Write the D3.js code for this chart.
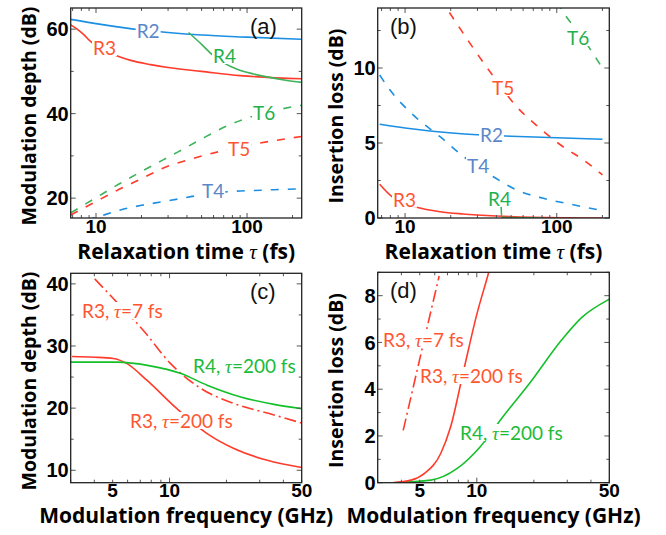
<!DOCTYPE html>
<html>
<head>
<meta charset="utf-8">
<script src="https://cdn.jsdelivr.net/npm/d3@7"></script>
<style>
body { margin: 0; background: #fff; }
</style>
</head>
<body>
<script>
// ---- panel (a): modulation depth (dB) vs relaxation time (fs)
const tauA_R2 = [6.8, 10, 20, 30, 50, 100, 230];
const depA_R2 = [62.3, 61.3, 59.8, 59.2, 58.6, 58.1, 57.6];
const tauA_R3 = [6.8, 7.5, 8.3, 9.2, 10, 12, 14, 17, 23, 30, 50, 90, 230];
const depA_R3 = [61, 60, 58.7, 57.1, 56.2, 54.6, 53.6, 52.6, 51.6, 50.9, 50, 49, 48.25];
const tauA_R4 = [41, 50, 59, 70, 86, 110, 135, 180, 230];
const depA_R4 = [59.2, 56.4, 53.9, 52, 50.5, 49.4, 48.7, 47.9, 47.4];
const tauA_T6 = [6.8, 10, 14.3, 20, 34.7, 53, 74.5, 120, 230];
const depA_T6 = [16.5, 20.1, 23.4, 26.3, 30.9, 34.5, 37.2, 39.8, 42.0];
const tauA_T5 = [6.8, 10, 13.4, 20, 28.7, 45, 67, 116, 230];
const depA_T5 = [16.0, 19.2, 21.6, 24.6, 27.3, 29.5, 31.1, 32.9, 34.6];
const tauA_T4 = [6.8, 11.5, 14.5, 20, 27, 35, 45, 80, 110, 150, 230];
const depA_T4 = [13.6, 16.1, 17.2, 18.3, 19.1, 19.8, 20.5, 21.6, 21.8, 22.0, 22.2];

// ---- panel (b): insertion loss (dB) vs relaxation time (fs)
const tauB_R2 = [6.8, 10, 14.6, 30, 50, 100, 200];
const lossB_R2 = [6.25, 6.0, 5.8, 5.55, 5.45, 5.35, 5.25];
const tauB_R3 = [6.8, 8.2, 10, 11.9, 17, 24, 40, 70, 120, 200];
const lossB_R3 = [2.25, 1.42, 0.95, 0.71, 0.42, 0.27, 0.13, 0.04, 0.01, 0];
const tauB_R4 = [43, 43.3, 60, 80];
const lossB_R4 = [0.75, 0.03, 0.02, 0.02];
const tauB_T4 = [6.8, 7.96, 11.3, 17, 25, 38.2, 54.4, 81.6, 122, 200];
const lossB_T4 = [9.53, 8.53, 6.87, 5.42, 4.0, 2.75, 1.87, 1.31, 0.93, 0.49];
const tauB_T5 = [17, 18.8, 26.8, 36.3, 54.4, 77.5, 110, 150, 200];
const lossB_T5 = [14.65, 13.98, 11.64, 9.75, 7.42, 5.98, 4.75, 3.87, 2.87];
const tauB_T6 = [100, 116, 150, 170, 200];
const lossB_T6 = [14.4, 13.4, 11.95, 11.1, 10.0];

// ---- panel (c): modulation depth (dB) vs modulation frequency (GHz)
const fC_R3t7 = [4.02, 4.64, 5.47, 6.43, 7.27, 10.1, 14.6, 21.9, 35.7, 50];
const depC_R3t7 = [40.8, 38.8, 36.5, 34.3, 32.5, 27.2, 23.2, 20.75, 18.9, 17.6];
const fC_R3t200 = [3.05, 4, 5.04, 5.93, 7.58, 10.9, 15.8, 21.9, 32.9, 50];
const depC_R3t200 = [28.3, 28.2, 28.0, 27.2, 24.5, 19.95, 15.9, 13.5, 11.6, 10.45];
const fC_R4t200 = [3.0, 5.26, 7.9, 11.4, 15.8, 23.8, 35.7, 50];
const depC_R4t200 = [27.4, 27.4, 26.8, 25.6, 23.7, 21.8, 20.6, 19.9];

// ---- panel (d): insertion loss (dB) vs modulation frequency (GHz)
const fD_R3t7 = [4.09, 4.7, 5.51, 6.33];
const lossD_R3t7 = [2.24, 4.35, 6.76, 8.84];
const fD_R3t200 = [3.6, 4.5, 5.3, 6.45, 7.27, 8.52, 10, 11.5, 12];
const lossD_R3t200 = [0.0, 0.11, 0.4, 1.25, 2.38, 4.8, 7.2, 8.94, 9.5];
const fD_R4t200 = [3.6, 5.73, 7.88, 10.4, 13.7, 18.9, 28, 35.7, 48.7, 50];
const lossD_R4t200 = [0.0, 0.11, 0.61, 1.53, 2.81, 4.23, 6.1, 7.06, 7.8, 7.85];

// colours
const BLUE = '#1c8fe3', RED = '#ff3b2b', GREEN = '#3db35c', GREEN2 = '#14c02a';
const BLUE_T = '#5b87c8', RED_T = '#ff5632', GREEN_T = '#1fb04c', GREEN2_T = '#1dbb3a';

const SANS = "'Liberation Sans', Arial, sans-serif";
const TITLE_FONT = "'Open Sans', 'Liberation Sans', sans-serif";
const LABEL_FONT = "Lato, 'Open Sans', sans-serif";
const SERIF = "'Liberation Serif', 'DejaVu Serif', serif";

var svg = d3.select('body').append('svg').attr('width', 666).attr('height', 535);

function makePanel(p) {
    let x = d3.scaleLog().domain(p.xDomain).range([p.left, p.right]);
    let y = d3.scaleLinear().domain(p.yDomain).range([p.bottom, p.top]);
    let g = svg.append('g');

    let clipId = 'clip-' + p.name;
    svg.append('clipPath').attr('id', clipId).append('rect')
        .attr('x', p.left).attr('y', p.top)
        .attr('width', p.right - p.left).attr('height', p.bottom - p.top);

    let plot = g.append('g').attr('clip-path', 'url(#' + clipId + ')');
    let over = g.append('g');

    // x ticks (log, top & bottom, inside)
    let lo = Math.floor(Math.log10(p.xDomain[0])), hi = Math.ceil(Math.log10(p.xDomain[1]));
    for (let k = lo; k <= hi; k++) {
        for (let m = 1; m <= 9; m++) {
            let v = m * Math.pow(10, k);
            if (v < p.xDomain[0] || v > p.xDomain[1]) continue;
            let len = m === 1 ? 5 : 3;
            let xx = x(v);
            over.append('line').attr('x1', xx).attr('x2', xx).attr('y1', p.bottom).attr('y2', p.bottom - len)
                .attr('stroke', '#555').attr('stroke-width', 1);
            over.append('line').attr('x1', xx).attr('x2', xx).attr('y1', p.top).attr('y2', p.top + len)
                .attr('stroke', '#555').attr('stroke-width', 1);
        }
    }
    p.xLabels.forEach(v => {
        over.append('text').text(v)
            .attr('x', x(v)).attr('y', p.bottom + 14.5)
            .attr('text-anchor', 'middle')
            .attr('font-family', SANS).attr('font-weight', 'bold').attr('font-size', 19);
    });

    // y ticks (left & right, inside)
    for (let v = p.yMinor0; v <= p.yDomain[1] + 1e-9; v += p.yMinor) {
        let major = p.yLabels.some(l => Math.abs(l - v) < 1e-9);
        let len = major ? 5 : 3;
        let yy = y(v);
        over.append('line').attr('x1', p.left).attr('x2', p.left + len).attr('y1', yy).attr('y2', yy)
            .attr('stroke', '#555').attr('stroke-width', 1);
        over.append('line').attr('x1', p.right).attr('x2', p.right - len).attr('y1', yy).attr('y2', yy)
            .attr('stroke', '#555').attr('stroke-width', 1);
    }
    p.yLabels.forEach(v => {
        over.append('text').text(v)
            .attr('x', p.left - 2).attr('y', y(v)).attr('dy', '0.36em')
            .attr('text-anchor', 'end')
            .attr('font-family', SANS).attr('font-weight', 'bold').attr('font-size', 20);
    });

    // axis titles
    let xt = over.append('text')
        .attr('x', (p.left + p.right) / 2).attr('y', p.bottom + 40.5)
        .attr('text-anchor', 'middle')
        .attr('font-family', TITLE_FONT).attr('font-weight', 'bold').attr('font-size', 21);
    p.xTitle.forEach(part => {
        let t = xt.append('tspan').text(part.t);
        if (part.italic) t.attr('font-family', SERIF).attr('font-style', 'italic').attr('font-weight', 'normal');
    });
    over.append('text').text(p.yTitle)
        .attr('transform', 'translate(' + (p.left - 35) + ',' + ((p.top + p.bottom) / 2 + 3) + ') rotate(-90)')
        .attr('text-anchor', 'middle')
        .attr('font-family', TITLE_FONT).attr('font-weight', 'bold').attr('font-size', 19.5);

    return { x: x, y: y, plot: plot, over: over, p: p };
}

function drawLine(P, xs, ys, color, dash, w) {
    let pts = xs.map((v, i) => [P.x(v), P.y(ys[i])]);
    P.plot.append('path')
        .attr('d', d3.line().curve(d3.curveMonotoneX)(pts))
        .attr('fill', 'none')
        .attr('stroke', color)
        .attr('stroke-width', w || 1.6)
        .attr('stroke-dasharray', dash || null);
}

// labels sit on a white box that hides the curve behind them
function label(P, parts, dx, dy, color, opts) {
    opts = opts || {};
    let grp = P.over.append('g');
    let bg = grp.append('rect').attr('fill', '#fff');
    let t = grp.append('text')
        .attr('x', P.p.left + dx).attr('y', P.p.top + dy)
        .attr('fill', color)
        .attr('font-family', opts.font || LABEL_FONT)
        .attr('font-size', opts.size || 19);
    parts.forEach(part => {
        let s = t.append('tspan').text(part.t);
        if (part.italic) s.attr('font-family', SERIF).attr('font-style', 'italic');
    });
    let bb = t.node().getBBox();
    let px = opts.pad == null ? 1 : opts.pad;
    bg.attr('x', bb.x - px).attr('y', bb.y + 3).attr('width', bb.width + 2 * px).attr('height', bb.height - 6);
}

function frame(P) {
    P.over.append('rect')
        .attr('x', P.p.left).attr('y', P.p.top)
        .attr('width', P.p.right - P.p.left).attr('height', P.p.bottom - P.p.top)
        .attr('fill', 'none').attr('stroke', '#222').attr('stroke-width', 1.3);
}

const TAU_TITLE = [{ t: 'Relaxation time ' }, { t: 'τ', italic: true }, { t: ' (fs)' }];
const FREQ_TITLE = [{ t: 'Modulation frequency (GHz)' }];
const DASH = '8,9';
const DASHDOT = '12,4,2,4';

// ---- (a)
let A = makePanel({
    name: 'a', left: 70.7, right: 301.7, top: 8, bottom: 218,
    xDomain: [6.8, 230], yDomain: [15.3, 65],
    xLabels: [10, 100], yLabels: [20, 40, 60], yMinor0: 20, yMinor: 10,
    xTitle: TAU_TITLE, yTitle: 'Modulation depth (dB)'
});
drawLine(A, tauA_R2, depA_R2, BLUE);
drawLine(A, tauA_R3, depA_R3, RED);
drawLine(A, tauA_R4, depA_R4, GREEN);
drawLine(A, tauA_T6, depA_T6, GREEN, DASH);
drawLine(A, tauA_T5, depA_T5, RED, DASH);
drawLine(A, tauA_T4, depA_T4, BLUE, DASH);
label(A, [{ t: 'R2' }], 66, 30, BLUE_T);
label(A, [{ t: 'R3' }], 22.3, 47, RED_T);
label(A, [{ t: 'R4' }], 142.3, 55, GREEN_T);
label(A, [{ t: 'T6' }], 182.3, 112, GREEN_T);
label(A, [{ t: 'T5' }], 157.3, 148, RED_T);
label(A, [{ t: 'T4' }], 131.3, 190, BLUE_T);
label(A, [{ t: '(a)' }], 179.3, 26, '#111', { font: SANS, size: 22, pad: 9 });
frame(A);

// ---- (b)
let B = makePanel({
    name: 'b', left: 377.7, right: 609.3, top: 8, bottom: 218,
    xDomain: [6.6, 222], yDomain: [0, 14],
    xLabels: [10, 100], yLabels: [0, 5, 10], yMinor0: 0, yMinor: 2.5,
    xTitle: TAU_TITLE, yTitle: 'Insertion loss (dB)'
});
drawLine(B, tauB_T6, lossB_T6, GREEN, DASH);
drawLine(B, tauB_T5, lossB_T5, RED, DASH);
drawLine(B, tauB_T4, lossB_T4, BLUE, DASH);
drawLine(B, tauB_R2, lossB_R2, BLUE);
drawLine(B, tauB_R3, lossB_R3, RED);
drawLine(B, tauB_R4, lossB_R4, GREEN);
label(B, [{ t: '(b)' }], 12.3, 26, '#111', { font: SANS, size: 22 });
label(B, [{ t: 'T6' }], 189.3, 37, GREEN_T);
label(B, [{ t: 'T5' }], 114.3, 87, RED_T);
label(B, [{ t: 'R2' }], 102.3, 133.7, BLUE_T);
label(B, [{ t: 'T4' }], 89.3, 165, BLUE_T);
label(B, [{ t: 'R3' }], 15.3, 198.7, RED_T);
label(B, [{ t: 'R4' }], 110.3, 197.5, GREEN_T);
frame(B);

// ---- (c)
let C = makePanel({
    name: 'c', left: 70.7, right: 301.7, top: 273.3, bottom: 482.7,
    xDomain: [3, 50], yDomain: [8, 41.7],
    xLabels: [5, 10, 50], yLabels: [10, 20, 30, 40], yMinor0: 10, yMinor: 5,
    xTitle: FREQ_TITLE, yTitle: 'Modulation depth (dB)'
});
drawLine(C, fC_R3t7, depC_R3t7, RED, DASHDOT);
drawLine(C, fC_R3t200, depC_R3t200, RED);
drawLine(C, fC_R4t200, depC_R4t200, GREEN2);
label(C, [{ t: '(c)' }], 179.3, 25.7, '#111', { font: SANS, size: 22 });
label(C, [{ t: 'R3, ' }, { t: 'τ', italic: true }, { t: '=7 fs' }], 11.3, 44.7, RED_T);
label(C, [{ t: 'R4, ' }, { t: 'τ', italic: true }, { t: '=200 fs' }], 122.3, 99.7, GREEN2_T);
label(C, [{ t: 'R3, ' }, { t: 'τ', italic: true }, { t: '=200 fs' }], 59.3, 154.7, RED_T);
frame(C);

// ---- (d)
let D = makePanel({
    name: 'd', left: 377.7, right: 609.3, top: 272.3, bottom: 482.7,
    xDomain: [3, 50], yDomain: [0, 9],
    xLabels: [5, 10, 50], yLabels: [0, 2, 4, 6, 8], yMinor0: 0, yMinor: 1,
    xTitle: FREQ_TITLE, yTitle: 'Insertion loss (dB)'
});
drawLine(D, fD_R3t7, lossD_R3t7, RED, DASHDOT);
drawLine(D, fD_R4t200, lossD_R4t200, GREEN2);
drawLine(D, fD_R3t200, lossD_R3t200, RED);
label(D, [{ t: '(d)' }], 12.3, 25.7, '#111', { font: SANS, size: 22 });
label(D, [{ t: 'R3, ' }, { t: 'τ', italic: true }, { t: '=7 fs' }], 5.3, 74.4, RED_T);
label(D, [{ t: 'R3, ' }, { t: 'τ', italic: true }, { t: '=200 fs' }], 42.3, 110.7, RED_T);
label(D, [{ t: 'R4, ' }, { t: 'τ', italic: true }, { t: '=200 fs' }], 82.3, 167.7, GREEN2_T);
frame(D);
</script>
</body>
</html>
